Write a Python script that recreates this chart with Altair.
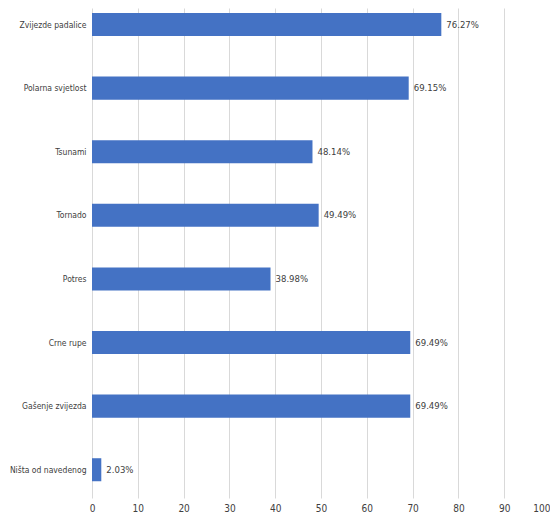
import altair as alt
import pandas as pd

categories = ["Zvijezde padalice", "Polarna svjetlost", "Tsunami", "Tornado",
              "Potres", "Crne rupe", "Gašenje zvijezda", "Ništa od navedenog"]
values = [76.27, 69.15, 48.14, 49.49, 38.98, 69.49, 69.49, 2.03]
labels = ["76.27%", "69.15%", "48.14%", "49.49%", "38.98%", "69.49%", "69.49%", "2.03%"]
x_ticks = [0, 10, 20, 30, 40, 50, 60, 70, 80, 90, 100]

df = pd.DataFrame({"cat": categories, "val": values, "lab": labels})

FONT = "DejaVu Sans Condensed, DejaVu Sans, sans-serif"

y_enc = alt.Y("cat:N", sort=categories, title=None,
              scale=alt.Scale(paddingInner=0.638, paddingOuter=0.171, align=0.23),
              axis=alt.Axis(ticks=False, domain=False, labelPadding=6, labelFontSize=8.5,
                            labelFont=FONT, labelColor="#404040", labelLimit=200))
x_enc = alt.X("val:Q", title=None,
              scale=alt.Scale(domain=[0, 100], nice=False),
              axis=alt.Axis(values=x_ticks, ticks=False, domain=False, grid=True,
                            gridColor="#d9d9d9", labelPadding=5, labelFontSize=10,
                            labelFont=FONT, labelColor="#404040", labelFlush=False,
                            labelAlign=alt.expr("datum.value == 100 ? 'right' : 'center'")))

bars = alt.Chart(df).mark_bar(color="#4472C4").encode(x=x_enc, y=y_enc)
text = alt.Chart(df).mark_text(align="left", baseline="middle", dx=5, fontSize=9.5,
                               font=FONT, color="#404040").encode(
    x="val:Q", y=alt.Y("cat:N", sort=categories), text="lab:N")

chart = (bars + text).properties(
    width=458, height=490,
    autosize=alt.AutoSizeParams(type="none"),
    padding={"left": 84, "right": 0, "top": 0, "bottom": 18},
).configure_view(stroke=None)

chart.save("out.html", embed_options={"renderer": "svg", "actions": False})
